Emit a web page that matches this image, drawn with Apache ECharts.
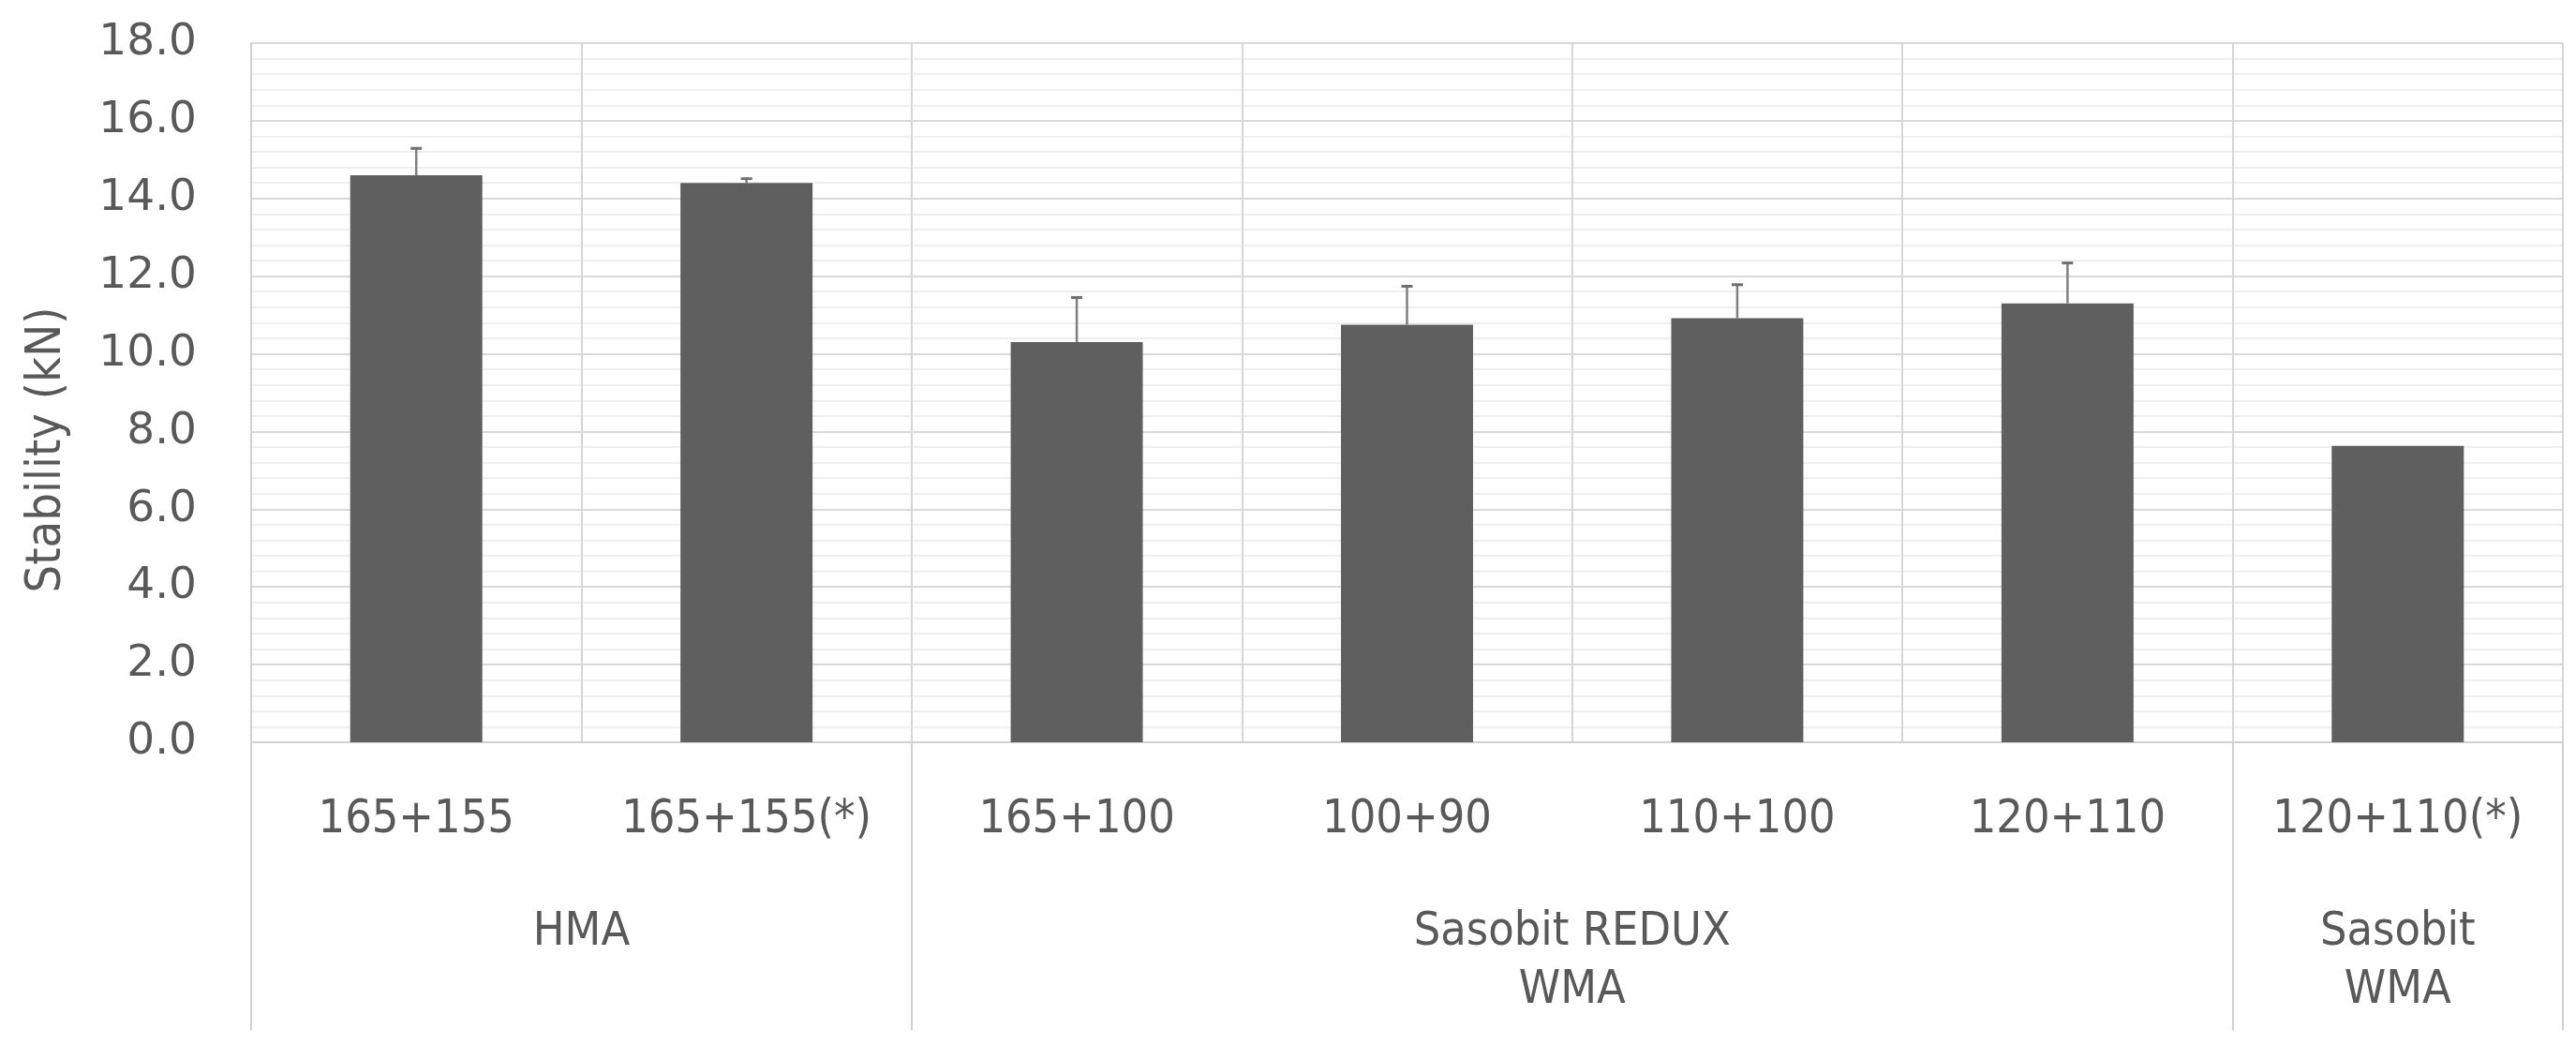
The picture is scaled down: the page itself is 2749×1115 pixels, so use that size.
<!DOCTYPE html>
<html>
<head>
<meta charset="UTF-8">
<title>Stability</title>
<script src="https://cdn.jsdelivr.net/npm/echarts@6/dist/echarts.min.js"></script>
<style>
html,body{margin:0;padding:0;background:#fff;}
#main{width:2749px;height:1115px;}
</style>
</head>
<body>
<div id="main"></div>
<script type="text/javascript">
// values
var categories = ['165+155', '165+155(*)', '165+100', '100+90', '110+100', '120+110', '120+110(*)'];
var stability = [14.6, 14.4, 10.3, 10.75, 10.92, 11.3, 7.63];
var errPlus = [0.69, 0.11, 1.15, 0.99, 0.86, 1.04, 0];
var groupNames = ['HMA', 'Sasobit REDUX\nWMA', 'Sasobit\nWMA'];
var groupSizes = [2, 4, 1];
var yTicks = [0, 2, 4, 6, 8, 10, 12, 14, 16, 18];

var textColor = '#595959';
var condFont = '"DejaVu Sans Condensed", "Liberation Sans Narrow", "Noto Sans", sans-serif';

// second axis: half-category slots, so group edges and centers fall on slots
var slots = [];
for (var i = 0; i <= categories.length * 2; i++) slots.push('');
var edgeIdx = {0: true};
var centerIdx = {};
var pos = 0;
for (var g = 0; g < groupSizes.length; g++) {
	centerIdx[pos * 2 + groupSizes[g]] = true;
	slots[pos * 2 + groupSizes[g]] = groupNames[g];
	pos += groupSizes[g];
	edgeIdx[pos * 2] = true;
}

var errData = [];
for (var k = 0; k < categories.length; k++) {
	errData.push([k, stability[k], errPlus[k]]);
}

var myChart = echarts.init(document.getElementById('main'));
var option = {
	animation: false,
	grid: {left: 268, right: 14, top: 46, bottom: 323},
	xAxis: [{
		type: 'category',
		data: categories,
		position: 'bottom',
		axisLine: {show: true, lineStyle: {color: '#d0d0d0', width: 2}},
		axisTick: {show: false},
		splitLine: {show: true, lineStyle: {color: '#d6d6d6', width: 2}},
		axisLabel: {
			color: textColor, fontFamily: condFont, fontSize: 50,
			lineHeight: 50, margin: 58, interval: 0
		}
	}, {
		type: 'category',
		data: slots,
		position: 'bottom',
		offset: 0,
		boundaryGap: false,
		axisLine: {show: false},
		axisTick: {
			show: true, length: 307,
			interval: function (idx) { return !!edgeIdx[idx]; },
			lineStyle: {color: '#d0d0d0', width: 2}
		},
		splitLine: {show: false},
		axisLabel: {
			color: textColor, fontFamily: condFont, fontSize: 50,
			lineHeight: 62, margin: 172, align: 'center',
			interval: function (idx) { return !!centerIdx[idx]; }
		}
	}],
	yAxis: {
		type: 'value',
		min: yTicks[0],
		max: yTicks[yTicks.length - 1],
		interval: yTicks[1] - yTicks[0],
		name: 'Stability (kN)',
		nameLocation: 'middle',
		nameGap: 192,
		nameRotate: 90,
		nameTextStyle: {
			color: textColor, fontFamily: condFont, fontSize: 52,
			padding: [0, 122, 0, 0]
		},
		axisLine: {show: true, lineStyle: {color: '#d0d0d0', width: 2}},
		axisTick: {show: false},
		axisLabel: {
			color: textColor, fontFamily: '"DejaVu Sans", sans-serif', fontSize: 47,
			margin: 58,
			formatter: function (v) { return v.toFixed(1); }
		},
		splitLine: {show: true, lineStyle: {color: '#dadada', width: 2}},
		minorTick: {show: false, splitNumber: 5},
		minorSplitLine: {show: true, lineStyle: {color: '#efefef', width: 2}}
	},
	series: [{
		type: 'bar',
		data: stability,
		barCategoryGap: '60%',
		itemStyle: {color: '#5f5f5f'},
		xAxisIndex: 0
	}, {
		type: 'custom',
		xAxisIndex: 0,
		data: errData,
		z: 3,
		renderItem: function (params, api) {
			var err = api.value(2);
			if (!err) return null;
			var base = api.coord([api.value(0), api.value(1)]);
			var top = api.coord([api.value(0), api.value(1) + err]);
			var half = 6;
			return {
				type: 'group',
				children: [{
					type: 'line',
					shape: {x1: base[0], y1: base[1], x2: top[0], y2: top[1]},
					style: {stroke: '#7f7f7f', lineWidth: 2.5}
				}, {
					type: 'line',
					shape: {x1: top[0] - half, y1: top[1], x2: top[0] + half, y2: top[1]},
					style: {stroke: '#6f6f6f', lineWidth: 3}
				}]
			};
		}
	}]
};
myChart.setOption(option);
</script>
</body>
</html>
